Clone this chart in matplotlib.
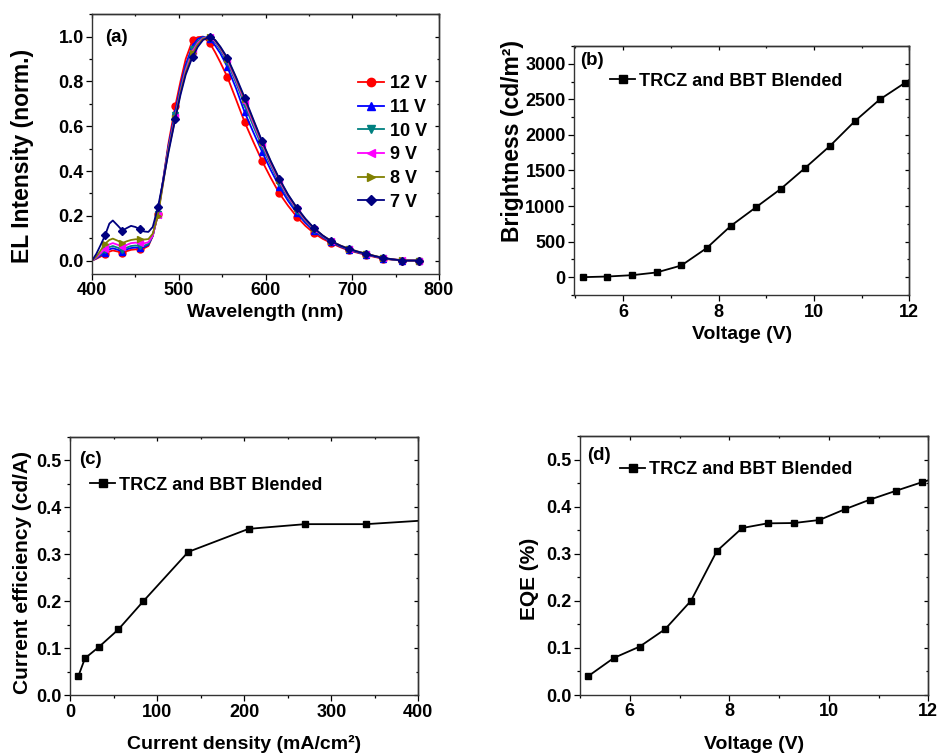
import matplotlib
matplotlib.use("Agg")
import matplotlib.pyplot as plt
from matplotlib.ticker import MultipleLocator, FormatStrFormatter

plt.rcParams['font.family'] = ['Liberation Sans', 'DejaVu Sans']
plt.rcParams['font.weight'] = 'bold'
plt.rcParams['axes.labelweight'] = 'bold'

# ---------------- data (a) ----------------
wavelength = [400, 405, 410, 415, 420, 424, 430, 435, 440, 445,
              450, 455, 460, 465, 470, 476, 482, 488, 496, 502,
              508, 516, 522, 528, 536, 542, 548, 556, 566, 576,
              586, 596, 606, 616, 626, 636, 646, 656, 666, 676,
              686, 696, 706, 716, 726, 736, 746, 757, 767, 777]
marker_idx = [3, 7, 11, 15, 18, 21, 24, 27, 29, 31, 33, 35, 37, 39, 41, 43, 45, 47, 49]

el_12v = [0, 0.008, 0.018, 0.028, 0.040, 0.045, 0.040, 0.033, 0.042, 0.048,
          0.050, 0.052, 0.055, 0.065, 0.11, 0.21, 0.36, 0.52, 0.69, 0.80,
          0.90, 0.985, 0.998, 1.0, 0.97, 0.93, 0.885, 0.82, 0.72, 0.618,
          0.53, 0.445, 0.37, 0.30, 0.245, 0.196, 0.155, 0.122, 0.097, 0.078,
          0.06, 0.045, 0.035, 0.025, 0.016, 0.008, 0.004, 0.0, 0.0, 0.0]
el_11v = [0, 0.010, 0.023, 0.036, 0.050, 0.055, 0.048, 0.040, 0.050, 0.056,
          0.058, 0.058, 0.060, 0.070, 0.11, 0.21, 0.36, 0.51, 0.665, 0.78,
          0.875, 0.96, 0.99, 1.0, 0.99, 0.96, 0.925, 0.865, 0.77, 0.662,
          0.573, 0.487, 0.405, 0.33, 0.267, 0.213, 0.168, 0.132, 0.104, 0.082,
          0.063, 0.048, 0.037, 0.027, 0.018, 0.009, 0.005, 0.0, 0.0, 0.0]
el_10v = [0, 0.012, 0.028, 0.045, 0.060, 0.065, 0.057, 0.048, 0.058, 0.065,
          0.067, 0.066, 0.066, 0.075, 0.11, 0.21, 0.355, 0.50, 0.65, 0.765,
          0.86, 0.945, 0.98, 0.997, 0.995, 0.975, 0.94, 0.885, 0.795, 0.695,
          0.60, 0.51, 0.425, 0.345, 0.28, 0.223, 0.176, 0.137, 0.107, 0.084,
          0.065, 0.05, 0.038, 0.028, 0.019, 0.01, 0.005, 0.0, 0.0, 0.0]
el_9v = [0, 0.014, 0.033, 0.053, 0.072, 0.078, 0.070, 0.060, 0.070, 0.078,
         0.080, 0.078, 0.077, 0.082, 0.11, 0.205, 0.35, 0.495, 0.64, 0.755,
         0.85, 0.935, 0.972, 0.993, 1.0, 0.98, 0.948, 0.895, 0.807, 0.71,
         0.615, 0.522, 0.435, 0.355, 0.287, 0.23, 0.181, 0.141, 0.11, 0.086,
         0.067, 0.052, 0.04, 0.03, 0.02, 0.011, 0.006, 0.002, 0.0, 0.0]
el_8v = [0, 0.018, 0.045, 0.075, 0.092, 0.098, 0.088, 0.078, 0.086, 0.092,
         0.095, 0.095, 0.094, 0.096, 0.12, 0.20, 0.345, 0.49, 0.635, 0.75,
         0.84, 0.925, 0.965, 0.99, 1.0, 0.985, 0.952, 0.902, 0.815, 0.72,
         0.625, 0.53, 0.442, 0.362, 0.293, 0.235, 0.185, 0.144, 0.112, 0.087,
         0.068, 0.053, 0.041, 0.031, 0.021, 0.012, 0.006, 0.002, 0.0, 0.0]
el_7v = [0, 0.03, 0.07, 0.112, 0.165, 0.179, 0.155, 0.134, 0.145, 0.155,
         0.150, 0.140, 0.130, 0.128, 0.150, 0.238, 0.355, 0.48, 0.632, 0.74,
         0.83, 0.911, 0.955, 0.985, 1.0, 0.985, 0.955, 0.906, 0.82, 0.728,
         0.63, 0.534, 0.445, 0.365, 0.295, 0.237, 0.187, 0.145, 0.112, 0.086,
         0.067, 0.052, 0.04, 0.03, 0.02, 0.011, 0.006, 0.0, 0.0, 0.0]

series_labels = ['12 V', '11 V', '10 V', '9 V', '8 V', '7 V']
series_data = [el_12v, el_11v, el_10v, el_9v, el_8v, el_7v]
series_colors = ['#FF0000', '#0000FF', '#008080', '#FF00FF', '#808000', '#000080']
series_markers = ['o', '^', 'v', '<', '>', 'D']

# ---------------- data (b) ----------------
voltage_b = [5.15, 5.67, 6.19, 6.70, 7.22, 7.75, 8.26, 8.78, 9.30, 9.82, 10.34, 10.86, 11.38, 11.90, 12.42]
brightness = [0, 9, 28, 66, 164, 408, 722, 980, 1238, 1538, 1847, 2194, 2498, 2728, 2960]

# ---------------- data (c) ----------------
current_density = [9.2, 16.9, 33.0, 55.2, 83.9, 135.6, 205, 270, 340, 425]
current_eff = [0.0405, 0.0788, 0.103, 0.140, 0.200, 0.305, 0.354, 0.364, 0.364, 0.374]

# ---------------- data (d) ----------------
voltage_d = [5.17, 5.68, 6.20, 6.71, 7.23, 7.75, 8.26, 8.77, 9.30, 9.81, 10.32, 10.83, 11.36, 11.87, 12.39]
eqe = [0.0404, 0.0787, 0.1028, 0.1397, 0.200, 0.3057, 0.3546, 0.3645, 0.3652, 0.3716, 0.3943, 0.415, 0.434, 0.4518, 0.468]

legend_label = 'TRCZ and BBT Blended'

W, H = 939, 756
fig = plt.figure(figsize=(W / 100, H / 100), dpi=100)


def make_ax(l, r, t, b):
    return fig.add_axes([l / W, 1 - b / H, (r - l) / W, (b - t) / H])


def style(ax, xmaj, xmin, ymaj, ymin):
    ax.xaxis.set_major_locator(MultipleLocator(xmaj))
    ax.xaxis.set_minor_locator(MultipleLocator(xmin))
    ax.yaxis.set_major_locator(MultipleLocator(ymaj))
    ax.yaxis.set_minor_locator(MultipleLocator(ymin))
    for s in ax.spines.values():
        s.set_linewidth(1.0)
        s.set_color('#333333')
    ax.tick_params(which='both', direction='out', top=False, right=False,
                   labelsize=13, width=0.9, pad=2)
    ax.tick_params(which='major', length=4)
    ax.tick_params(which='minor', length=2.5)
    sec = ax.secondary_xaxis('top')
    sec.xaxis.set_major_locator(MultipleLocator(xmaj))
    sec.xaxis.set_minor_locator(MultipleLocator(xmin))
    sec.tick_params(which='both', direction='in', labeltop=False, width=0.9)
    sec.tick_params(which='major', length=3)
    sec.tick_params(which='minor', length=1.5)
    sec.spines['top'].set_linewidth(1.0)
    sec.spines['top'].set_color('#333333')
    secy = ax.secondary_yaxis('right')
    secy.yaxis.set_major_locator(MultipleLocator(ymaj))
    secy.yaxis.set_minor_locator(MultipleLocator(ymin))
    secy.tick_params(which='both', direction='in', labelright=False, width=0.9)
    secy.tick_params(which='major', length=3)
    secy.tick_params(which='minor', length=1.5)
    secy.spines['right'].set_linewidth(1.0)
    secy.spines['right'].set_color('#333333')
    for lab in ax.get_xticklabels() + ax.get_yticklabels():
        lab.set_fontweight('bold')


def labels(ax, xl, yl, xpos, ypos_x, ypos_y, ysize=15):
    ax.set_xlabel(xl, fontsize=14, fontweight='bold')
    ax.set_ylabel(yl, fontsize=ysize, fontweight='bold')
    ax.xaxis.set_label_coords(0.5, xpos)
    ax.xaxis.label.set_va('center')
    ax.yaxis.set_label_coords(ypos_x, ypos_y)
    ax.yaxis.label.set_va('center')
    ax.yaxis.label.set_ha('center')
    ax.yaxis.label.set_rotation_mode('anchor')


leg_kw = dict(loc='upper left', frameon=False, borderpad=0, borderaxespad=0,
              handlelength=1.4, handletextpad=0.2, markerscale=1.1,
              prop={'size': 13, 'weight': 'bold'})

# ---------------- panel (a) ----------------
ax_a = make_ax(92, 439, 14.3, 274)
for lab, y, c, m in zip(series_labels, series_data, series_colors, series_markers):
    ms = 4.2 if m == 'D' else 5
    ax_a.plot(wavelength, y, color=c, marker=m, markevery=marker_idx, ms=ms,
              lw=1.3, label=lab)
ax_a.set_xlim(400, 800)
ax_a.set_ylim(-0.06, 1.1)
style(ax_a, 100, 50, 0.2, 0.1)
ax_a.set_yticks([0, 0.2, 0.4, 0.6, 0.8, 1.0])
ax_a.yaxis.set_major_formatter(FormatStrFormatter('%.1f'))
labels(ax_a, 'Wavelength (nm)', 'EL Intensity (norm.)', -0.150, -0.2, 0.455, ysize=16.5)
ax_a.text(0.037, 0.911, '(a)', transform=ax_a.transAxes, fontsize=13.5,
          fontweight='bold', va='center', ha='left')
ka = dict(leg_kw)
ka.update(handlelength=1.45, handletextpad=0.3, labelspacing=0.37, markerscale=1.2)
ax_a.legend(bbox_to_anchor=(0.7666, 0.765), **ka)

# ---------------- panel (b) ----------------
ax_b = make_ax(574, 909.3, 46, 295.3)
ax_b.plot(voltage_b, brightness, color='black', marker='s', ms=5, lw=1.3, label=legend_label)
ax_b.set_xlim(4.97, 12.0)
ax_b.set_ylim(-255, 3250)
style(ax_b, 2, 1, 500, 250)
labels(ax_b, 'Voltage (V)', 'Brightness (cd/m²)', -0.159, -0.182, 0.62, ysize=16.5)
ax_b.text(0.018, 0.94, '(b)', transform=ax_b.transAxes, fontsize=13.5,
          fontweight='bold', va='center', ha='left')
ax_b.legend(bbox_to_anchor=(0.107, 0.893), **leg_kw)

# ---------------- panel (c) ----------------
ax_c = make_ax(70.3, 418.3, 436.7, 695.3)
ax_c.plot(current_density, current_eff, color='black', marker='s', ms=5, lw=1.3, label=legend_label)
ax_c.set_xlim(0, 400)
ax_c.set_ylim(0, 0.55)
style(ax_c, 100, 50, 0.1, 0.05)
ax_c.yaxis.set_major_formatter(FormatStrFormatter('%.1f'))
labels(ax_c, 'Current density (mA/cm²)', 'Current efficiency (cd/A)',
       -0.19, -0.136, 0.473)
ax_c.text(0.025, 0.912, '(c)', transform=ax_c.transAxes, fontsize=13.5,
          fontweight='bold', va='center', ha='left')
ax_c.legend(bbox_to_anchor=(0.0566, 0.845), **leg_kw)

# ---------------- panel (d) ----------------
ax_d = make_ax(580, 928.3, 436, 695)
ax_d.plot(voltage_d, eqe, color='black', marker='s', ms=5, lw=1.3, label=legend_label)
ax_d.set_xlim(5.0, 12.0)
ax_d.set_ylim(0, 0.55)
style(ax_d, 2, 1, 0.1, 0.05)
ax_d.yaxis.set_major_formatter(FormatStrFormatter('%.1f'))
labels(ax_d, 'Voltage (V)', 'EQE (%)', -0.193, -0.144, 0.448)
ax_d.text(0.02, 0.925, '(d)', transform=ax_d.transAxes, fontsize=13.5,
          fontweight='bold', va='center', ha='left')
ax_d.legend(bbox_to_anchor=(0.115, 0.903), **leg_kw)

fig.savefig('out.png', dpi=100)
